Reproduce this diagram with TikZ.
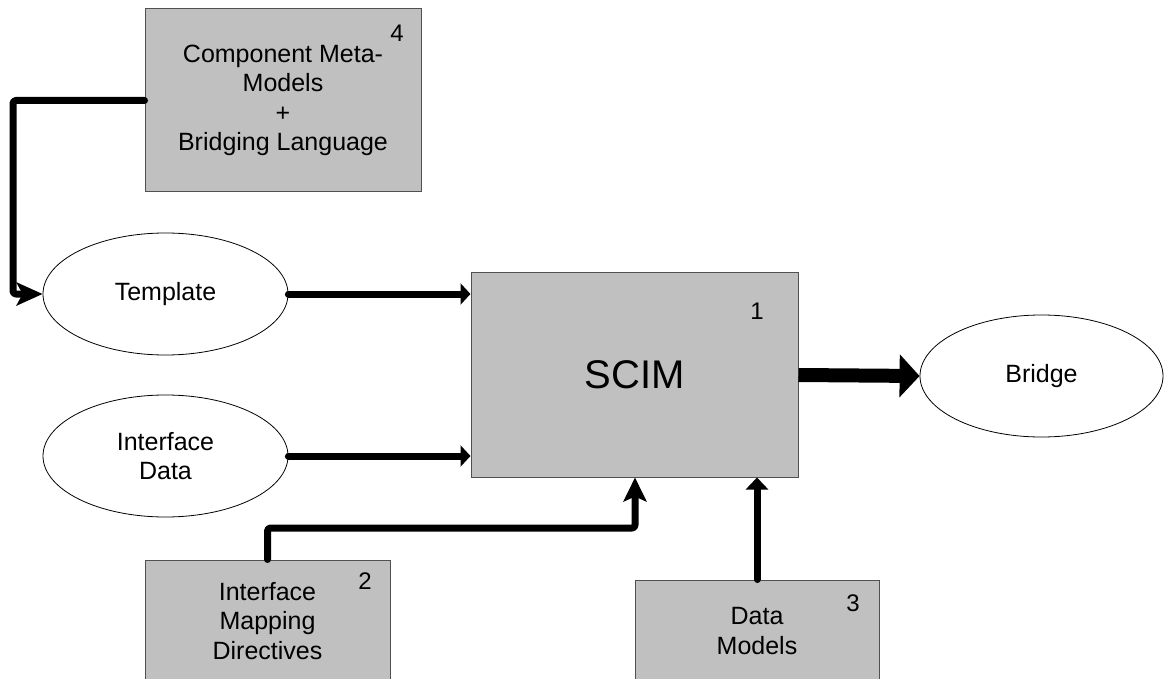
\documentclass[tikz,border=0pt]{standalone}
\usepackage{fontspec}
\setmainfont{Liberation Sans}
\usetikzlibrary{arrows.meta,shapes.geometric}
\definecolor{boxgray}{RGB}{192,192,192}
\definecolor{edgegray}{RGB}{80,80,80}
\begin{document}
\begin{tikzpicture}[x=1pt,y=-1pt,
  box/.style={draw=edgegray, line width=1pt, fill=boxgray, inner sep=0pt,
    align=center, font=\fontsize{25}{29.5}\selectfont},
  oval/.style={ellipse, draw=black, line width=0.8pt, fill=white, inner sep=0pt,
    align=center, font=\fontsize{25}{29.5}\selectfont},
  tag/.style={inner sep=0pt, font=\fontsize{24}{24}\selectfont},
  conn/.style={line width=7pt, rounded corners=3pt, line cap=round, line join=round},
  heavy/.style={line width=14pt}]
\useasboundingbox (0,0) rectangle (1165,679);
\fill[white] (0,0) rectangle (1165,679);
\clip (0,0) rectangle (1165,679);

% processing blocks
\node[box, minimum width=276pt, minimum height=183pt] (b4) at (283,100.5)
  {Component Meta-\\Models\\+\\Bridging Language};
\node[box, minimum width=327pt, minimum height=204pt,
  font=\fontsize{40}{40}\selectfont] (scim) at (634.5,375) {SCIM};
\node[box, minimum width=245pt, minimum height=122pt] (b2) at (267.5,621)
  {Interface\\Mapping\\Directives};
\node[box, minimum width=244pt, minimum height=102pt] (b3) at (757,631)
  {Data\\Models};

% block numbers
\node[tag] (n4) at (397,33) {4};
\node[tag] (n1) at (757,311) {1};
\node[tag] (n2) at (365,581) {2};
\node[tag] (n3) at (853,603) {3};

% data items
\node[oval, minimum width=245pt, minimum height=122pt] (tmpl) at (165.5,294) {Template};
\node[oval, minimum width=245pt, minimum height=122pt] (idata) at (165.5,456) {Interface\\Data};
\node[oval, minimum width=243pt, minimum height=122pt] (bridge) at (1041.5,376) {Bridge};

% bend points of the routed connectors
\coordinate (k4) at (13,100);
\coordinate (k2) at (635,528);

% connectors
\draw[conn, -{Stealth[length=26pt,width=23pt,inset=6pt]}]
  (b4.west) -- (b4.west -| k4) |- (tmpl.west);
\draw[conn, -{Triangle[length=10pt,width=21pt]}] (tmpl.east) -- (tmpl.east -| scim.west);
\draw[conn, -{Triangle[length=10pt,width=21pt]}] (idata.east) -- (idata.east -| scim.west);
\draw[conn, -{Stealth[length=24pt,width=23pt,inset=5pt]}]
  (b2.north) |- (k2) -- (k2 |- scim.south);
\draw[conn, -{Triangle[length=12pt,width=22pt]}] (b3.north) -- (b3.north |- scim.south);
\draw[heavy, -{Triangle[length=20pt,width=42pt]}] (scim.east) -- (bridge.west);
\end{tikzpicture}
\end{document}
